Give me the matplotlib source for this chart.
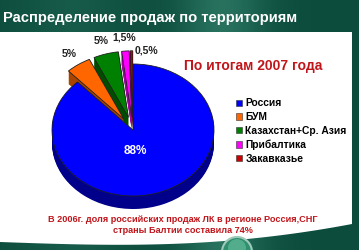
import matplotlib
matplotlib.use("Agg")
import matplotlib.pyplot as plt
import numpy as np
from matplotlib.patches import Polygon, Circle

# data
regions = ["Россия", "БУМ", "Казахстан+Ср. Азия", "Прибалтика", "Закавказье"]
shares = [88, 5, 5, 1.5, 0.5]
share_labels = ["88%", "5%", "5%", "1,5%", "0,5%"]
top_colors = ["#0000ff", "#ff6600", "#008000", "#ff00ff", "#cc0000"]
side_colors = ["#00008a", "#a84400", "#004d00", "#a000a0", "#800000"]
explode = [0, 0.2, 0.2, 0.2, 0.2]

title = "Распределение продаж по территориям"
subtitle = "По итогам 2007 года"
note = "В 2006г. доля российских продаж ЛК в регионе Россия,СНГ\nстраны Балтии составила 74%"

W, H = 359, 250
fig = plt.figure(figsize=(W / 100, H / 100), dpi=100)

# background axes in pixel coords (y down)
bg = fig.add_axes([0, 0, 1, 1])
bg.set_xlim(0, W)
bg.set_ylim(H, 0)
bg.axis("off")

# dark green slide background with lighter streak
xx = np.linspace(0, 1, 200)
base = np.array([0.05, 0.30, 0.24])
light = np.array([0.18, 0.48, 0.40])
glow = np.exp(-((xx - 0.62) / 0.12) ** 2) * 0.8 + np.exp(-((xx - 0.2) / 0.15) ** 2) * 0.3
img = base[None, :] + (light - base)[None, :] * glow[:, None]
img = np.clip(img, 0, 1)[None, :, :]
bg.imshow(img, extent=[0, W, H, 0], aspect="auto", zorder=0)

# white panel with curved bottom edge
px = np.linspace(0, 352, 60)
py = 242 + 4 * np.sin(px / 352 * np.pi) - 18 * (px / 352) ** 3
panel = np.vstack([[0, 32], [352, 32], np.column_stack([px, py])[::-1]])
bg.add_patch(Polygon(panel, closed=True, facecolor="white", edgecolor="none", zorder=1))

# glossy circle at bottom
bg.add_patch(Circle((237, 252), 15, facecolor="#2f8f6f", edgecolor="#9fc9b8", lw=1.5, zorder=2))
bg.add_patch(Circle((237, 248), 9, facecolor="#6cc0a0", edgecolor="none", alpha=0.6, zorder=2))

bg.text(3, 18, title, color="white", fontsize=10.6, fontweight="bold",
        family="Liberation Sans", va="center", ha="left", zorder=3)
bg.text(253, 66, subtitle, color="#c0161b", fontsize=10, fontweight="bold",
        family="Liberation Sans", va="center", ha="center", zorder=3)
bg.text(183, 225, note, color="#c0161b", fontsize=6.6, fontweight="bold",
        family="Liberation Sans", va="center", ha="center", linespacing=1.25, zorder=3)

# pie axes (elliptical, pseudo-3D)
cx, cy, rx, ry = 133, 130, 81, 66
lim = 1.4
pie_ax = fig.add_axes([(cx - lim * rx) / W, (H - cy - lim * ry) / H,
                       2 * lim * rx / W, 2 * lim * ry / H])
pie_ax.set_zorder(2)
pie_ax.patch.set_alpha(0)

depth = 13 / ry
for d in np.linspace(depth, 0.01, 14):
    pie_ax.pie(shares, colors=side_colors, explode=explode, startangle=90,
               counterclock=False, center=(0, -d),
               wedgeprops=dict(linewidth=0))
wedges, texts = pie_ax.pie(shares, colors=top_colors, explode=explode, startangle=90,
                           counterclock=False, labels=share_labels, labeldistance=1.2,
                           wedgeprops=dict(linewidth=0.6, edgecolor="#202020"),
                           textprops=dict(fontsize=7.5, fontweight="bold",
                                          family="Liberation Sans", color="#222222"))
texts[0].set_position((0.03, -0.32))
texts[0].set_color("white")
texts[0].set_fontsize(8.5)
tx, ty = texts[4].get_position()
texts[4].set_position((tx + 0.19, ty - 0.19))
for t in texts:
    t.set_ha("center")
    t.set_va("center")
    t.set_clip_on(False)
pie_ax.set_aspect("auto")
pie_ax.set_xlim(-lim, lim)
pie_ax.set_ylim(-lim, lim)
pie_ax.axis("off")

leg = fig.legend(wedges, regions, loc="upper left", bbox_to_anchor=(236 / W, 1 - 98.5 / H),
                 frameon=False, handlelength=0.55, handleheight=0.55,
                 handletextpad=0.35, labelspacing=0.36, borderpad=0, borderaxespad=0,
                 prop=dict(size=7.4, weight="bold", family="Liberation Sans"))
for h in leg.legend_handles:
    h.set_edgecolor("#333333")
    h.set_linewidth(0.4)

fig.savefig("out.png", dpi=100)
